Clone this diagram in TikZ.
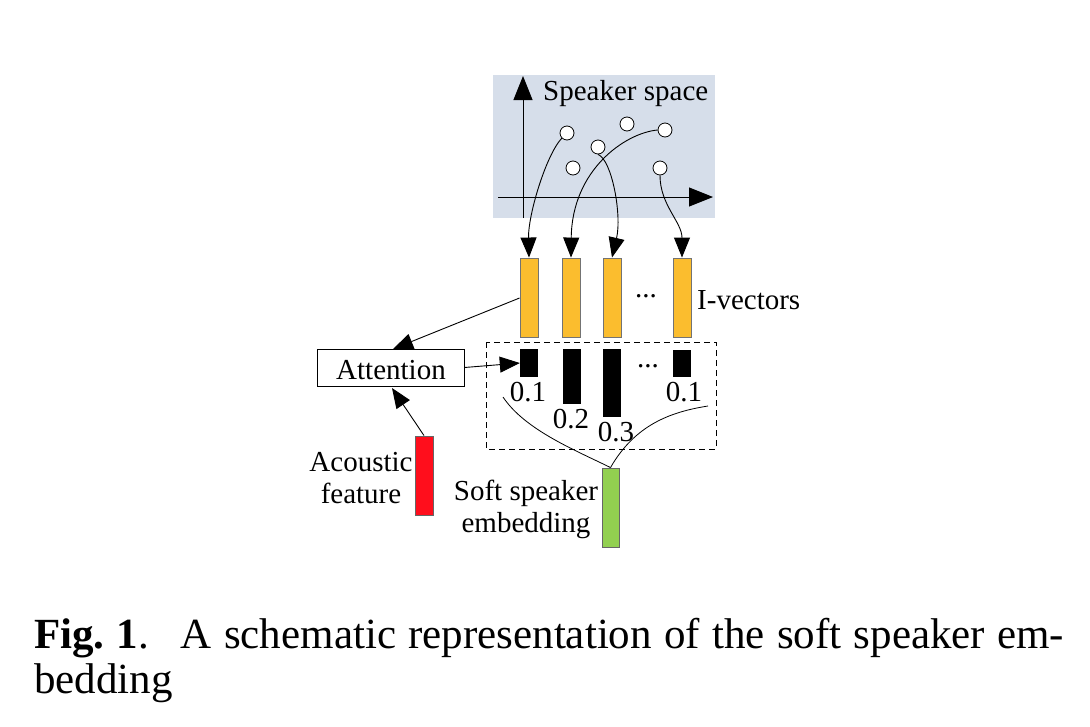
\documentclass[tikz,border=0pt]{standalone}
\usepackage{fontspec}
\setmainfont{Liberation Serif}
\usetikzlibrary{arrows.meta}
\definecolor{spacebg}{RGB}{214,222,234}
\definecolor{ivorange}{RGB}{251,189,46}
\definecolor{accred}{RGB}{255,14,28}
\definecolor{embgreen}{RGB}{146,208,80}
\begin{document}
\begin{tikzpicture}[x=1pt,y=-1pt,
  lbl/.style={font=\fontsize{29}{32}\selectfont, inner sep=0pt},
  ivec/.style={draw=black!55, fill=ivorange, line width=0.9pt, minimum width=18pt, minimum height=79pt, inner sep=0pt},
  wbar/.style={fill=black, draw=none, minimum width=18pt, inner sep=0pt},
  pt/.style={circle, draw=black, fill=white, line width=0.8pt, minimum size=14pt, inner sep=0pt},
  conn/.style={line width=0.9pt, -{Triangle[length=20pt,width=16pt]}},
  axis/.style={line width=1pt, -{Triangle[length=24pt,width=19pt]}},
  plain/.style={line width=0.8pt}
]
\useasboundingbox (0,0) rectangle (1090,726);
% speaker space
\fill[spacebg] (493,75) rectangle (715,218);
\coordinate (yb) at (523,218);
\coordinate (yt) at (523,76);
\coordinate (xl) at (498,197);
\coordinate (xr) at (713,197);
\draw[axis] (yb) -- (yt);
\draw[axis] (xl) -- (xr);
\node[lbl, anchor=base west] (sstxt) at (543,100) {Speaker space};
\node[pt] (c1) at (567,133) {};
\node[pt] (c2) at (627,124) {};
\node[pt] (c3) at (665,130) {};
\node[pt] (c4) at (598,147) {};
\node[pt] (c5) at (573,168) {};
\node[pt] (c6) at (660,168) {};
% i-vectors
\node[ivec] (v1) at (529,297.5) {};
\node[ivec] (v2) at (571,297.5) {};
\node[ivec] (v3) at (612,297.5) {};
\node[ivec] (v4) at (682,297.5) {};
\node[lbl] (vdots) at (646,296) {...};
\node[lbl, anchor=west] (ivtxt) at (697,300) {I-vectors};
% curves from space to i-vectors
\draw[conn] (c1.south west) .. controls (546,155) and (528,215) .. (v1.north);
\draw[conn] (c3.west) .. controls (625,133) and (572,170) .. (v2.north);
\draw[conn] (c4.south) .. controls (612,160) and (622,215) .. (v3.north);
\draw[conn] (c6.south) .. controls (660,205) and (682,222) .. (v4.north);
% weights
\draw[dashed, line width=0.9pt, dash pattern=on 6pt off 4pt] (486,342) rectangle (716,449);
\node[wbar, minimum height=28pt] (w1) at (529,363) {};
\node[wbar, minimum height=55pt] (w2) at (571.5,376.5) {};
\node[wbar, minimum height=68pt] (w3) at (612,383) {};
\node[wbar, minimum height=27pt] (w4) at (682,363.5) {};
\node[lbl] (wdots) at (648,366) {...};
\node[lbl] (n1) at (528,392) {0.1};
\node[lbl] (n2) at (571,419) {0.2};
\node[lbl] (n3) at (616,432) {0.3};
\node[lbl] (n4) at (684,392) {0.1};
% attention
\node[draw, line width=0.9pt, minimum width=147pt, minimum height=37pt, inner sep=0pt] (att) at (390.5,367.5) {};
\node[lbl] (atttxt) at (391,370) {Attention};
\coordinate (ae) at (520,298);
\draw[conn] (v1.west |- ae) -- (393,349);
\draw[conn] (att.east) -- (w1.west);
% acoustic
\node[draw=black!60, fill=accred, line width=0.9pt, minimum width=18pt, minimum height=79pt, inner sep=0pt] (ac) at (424,475.5) {};
\node[lbl, align=center] (actxt) at (361,478) {Acoustic\\feature};
\draw[conn] (ac.north) -- (392,388);
% soft embedding
\node[draw=black!60, fill=embgreen, line width=0.9pt, minimum width=17pt, minimum height=79pt, inner sep=0pt] (se) at (610.5,507.5) {};
\node[lbl, align=center] (setxt) at (526,509) {Soft speaker\\embedding};
\coordinate (lc) at (503,397);
\coordinate (rc) at (708,406);
\draw[plain] (lc) .. controls (525,430) and (575,450) .. (se.north);
\draw[plain] (rc) .. controls (670,412) and (635,425) .. (se.north);
% caption
\node[anchor=north west, inner sep=0pt, text width=1030pt, align=justify, font=\fontsize{43}{45}\selectfont] (cap) at (34,618)
 {{\bfseries Fig.~1}.\hspace{0.3em} A schematic representation of the soft speaker em-\linebreak bedding};
\end{tikzpicture}
\end{document}
